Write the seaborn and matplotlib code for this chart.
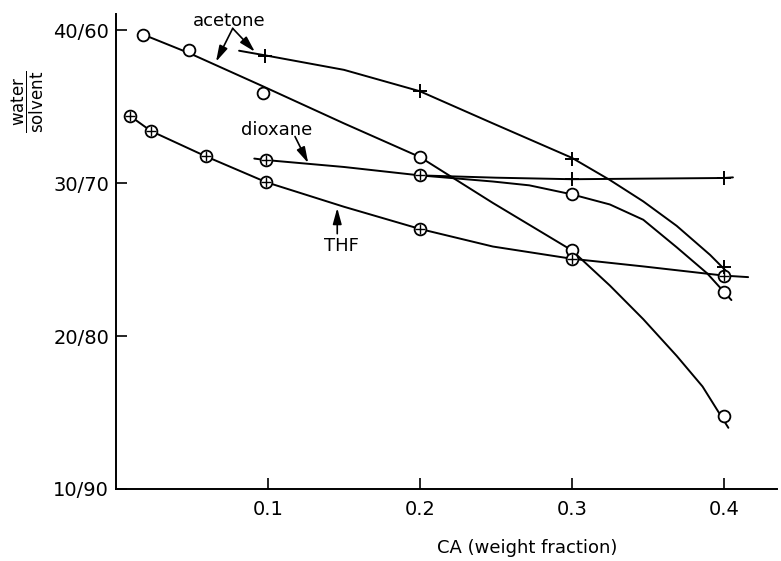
import numpy as np
import pandas as pd
import matplotlib
matplotlib.use("Agg")
import matplotlib.pyplot as plt
import seaborn as sns

# ---------------- data ----------------
# x: CA weight fraction; y: water part of water/solvent ratio
x_ticks = [0.1, 0.2, 0.3, 0.4]
x_ticklabels = ["0.1", "0.2", "0.3", "0.4"]
y_ticks = [10, 20, 30, 40]
y_ticklabels = ["10/90", "20/80", "30/70", "40/60"]

# acetone, open circles
acetone_o_x = [0.018, 0.048, 0.097, 0.200, 0.300, 0.400]
acetone_o_y = [39.7, 38.7, 35.9, 31.7, 25.6, 14.8]
acetone_o_curve_x = [0.018, 0.048, 0.095, 0.150, 0.200, 0.248, 0.300, 0.325, 0.347, 0.369, 0.386, 0.403]
acetone_o_curve_y = [39.7, 38.5, 36.4, 33.9, 31.7, 28.7, 25.6, 23.3, 21.1, 18.7, 16.7, 14.0]

# acetone, plus markers
acetone_p_x = [0.098, 0.200, 0.300, 0.400]
acetone_p_y = [38.3, 36.0, 31.6, 24.5]
acetone_p_curve_x = [0.081, 0.098, 0.150, 0.200, 0.248, 0.300, 0.325, 0.347, 0.369, 0.391, 0.403]
acetone_p_curve_y = [38.65, 38.35, 37.4, 36.0, 33.9, 31.65, 30.2, 28.8, 27.2, 25.3, 24.1]

# dioxane
dioxane_c_x = [0.099, 0.200]
dioxane_c_y = [31.5, 30.5]
dioxane_p_x = [0.300, 0.400]
dioxane_p_y = [30.25, 30.33]
dioxane_line_x = [0.091, 0.099, 0.150, 0.200, 0.250, 0.300, 0.400, 0.406]
dioxane_line_y = [31.6, 31.5, 31.05, 30.5, 30.35, 30.25, 30.33, 30.37]
dioxane_o_x = [0.300, 0.400]
dioxane_o_y = [29.26, 22.86]
dioxane_o_curve_x = [0.200, 0.248, 0.272, 0.300, 0.325, 0.347, 0.369, 0.389, 0.405]
dioxane_o_curve_y = [30.5, 30.1, 29.85, 29.26, 28.6, 27.6, 25.8, 24.1, 22.35]

# THF
thf_x = [0.009, 0.023, 0.059, 0.099, 0.200, 0.300, 0.400]
thf_y = [34.4, 33.4, 31.75, 30.05, 27.0, 25.05, 23.95]
thf_curve_x = [0.009, 0.023, 0.059, 0.099, 0.150, 0.200, 0.248, 0.300, 0.347, 0.400, 0.416]
thf_curve_y = [34.4, 33.4, 31.75, 30.05, 28.45, 27.0, 25.85, 25.05, 24.55, 23.95, 23.85]

# ---------------- figure ----------------
sns.set_theme(style="ticks")
plt.rcParams["font.family"] = ["DejaVu Sans"]
plt.rcParams["mathtext.fontset"] = "dejavusans"
plt.rcParams["text.color"] = "black"
plt.rcParams["axes.labelcolor"] = "black"
plt.rcParams["xtick.color"] = "black"
plt.rcParams["ytick.color"] = "black"

W, H = 781, 561
fig = plt.figure(figsize=(W / 100, H / 100), dpi=100)
ax = fig.add_axes([116 / W, 1 - 489 / H, (777 - 116) / W, (489 - 14) / H])

LW = 1.4
curves = [
    (acetone_o_curve_x, acetone_o_curve_y),
    (acetone_p_curve_x, acetone_p_curve_y),
    (dioxane_line_x, dioxane_line_y),
    (dioxane_o_curve_x, dioxane_o_curve_y),
    (thf_curve_x, thf_curve_y),
]
for cx, cy in curves:
    df = pd.DataFrame({"x": cx, "y": cy})
    sns.lineplot(data=df, x="x", y="y", ax=ax, color="black", lw=LW,
                 sort=False, estimator=None, zorder=2)

# open circles
df_o = pd.DataFrame({"x": acetone_o_x + dioxane_o_x, "y": acetone_o_y + dioxane_o_y})
sns.scatterplot(data=df_o, x="x", y="y", ax=ax, marker="o", s=72,
                facecolor="white", edgecolor="black", linewidth=1.3, zorder=3)

# circled plus markers (THF and dioxane)
df_c = pd.DataFrame({"x": thf_x + dioxane_c_x, "y": thf_y + dioxane_c_y})
sns.scatterplot(data=df_c, x="x", y="y", ax=ax, marker="o", s=72,
                facecolor="white", edgecolor="black", linewidth=1.3, zorder=3)
sns.scatterplot(data=df_c, x="x", y="y", ax=ax, marker="+", s=60,
                color="black", linewidth=1.0, zorder=4)

# plus markers
df_p = pd.DataFrame({"x": acetone_p_x + dioxane_p_x, "y": acetone_p_y + dioxane_p_y})
sns.scatterplot(data=df_p, x="x", y="y", ax=ax, marker="+", s=110,
                color="black", linewidth=1.4, zorder=4)

# ---------------- labels and arrows ----------------
fs = 13
ax.text(0.0745, 40.61, "acetone", ha="center", va="center", fontsize=fs, color="black")
arrow = dict(arrowstyle="-|>,head_length=0.8,head_width=0.22", color="black",
             lw=1.2, shrinkA=0, shrinkB=0)
ax.annotate("", xy=(0.0658, 37.93), xytext=(0.0768, 40.11), arrowprops=arrow)
ax.annotate("", xy=(0.0914, 38.58), xytext=(0.0768, 40.11), arrowprops=arrow)

ax.text(0.1057, 33.48, "dioxane", ha="center", va="center", fontsize=fs, color="black")
ax.annotate("", xy=(0.1265, 31.30), xytext=(0.1178, 33.04), arrowprops=arrow)

ax.text(0.1485, 25.87, "THF", ha="center", va="center", fontsize=fs, color="black")
ax.annotate("", xy=(0.1456, 28.37), xytext=(0.1456, 26.69), arrowprops=arrow)

# ---------------- axes styling ----------------
ax.set_xlim(0, 0.435)
ax.set_ylim(10, 41.05)
ax.set_xticks(x_ticks)
ax.set_xticklabels(x_ticklabels)
ax.set_yticks(y_ticks)
ax.set_yticklabels(y_ticklabels)
ax.tick_params(direction="in", length=8, width=1.2, colors="black", labelsize=14)
ax.tick_params(axis="x", pad=8)
ax.tick_params(axis="y", pad=5)
sns.despine(ax=ax)
for s in ["left", "bottom"]:
    ax.spines[s].set_linewidth(1.4)
    ax.spines[s].set_color("black")

ax.set_xlabel("CA (weight fraction)", fontsize=13, va="center", color="black")
ax.xaxis.set_label_coords(0.622, -0.124)
ax.set_ylabel("")

fig.text(28 / W, 1 - 102 / H, r"$\dfrac{\mathsf{water}}{\mathsf{solvent}}$",
         rotation=90, ha="center", va="center", fontsize=12, color="black")

fig.savefig("out.png", dpi=100, facecolor="white")
